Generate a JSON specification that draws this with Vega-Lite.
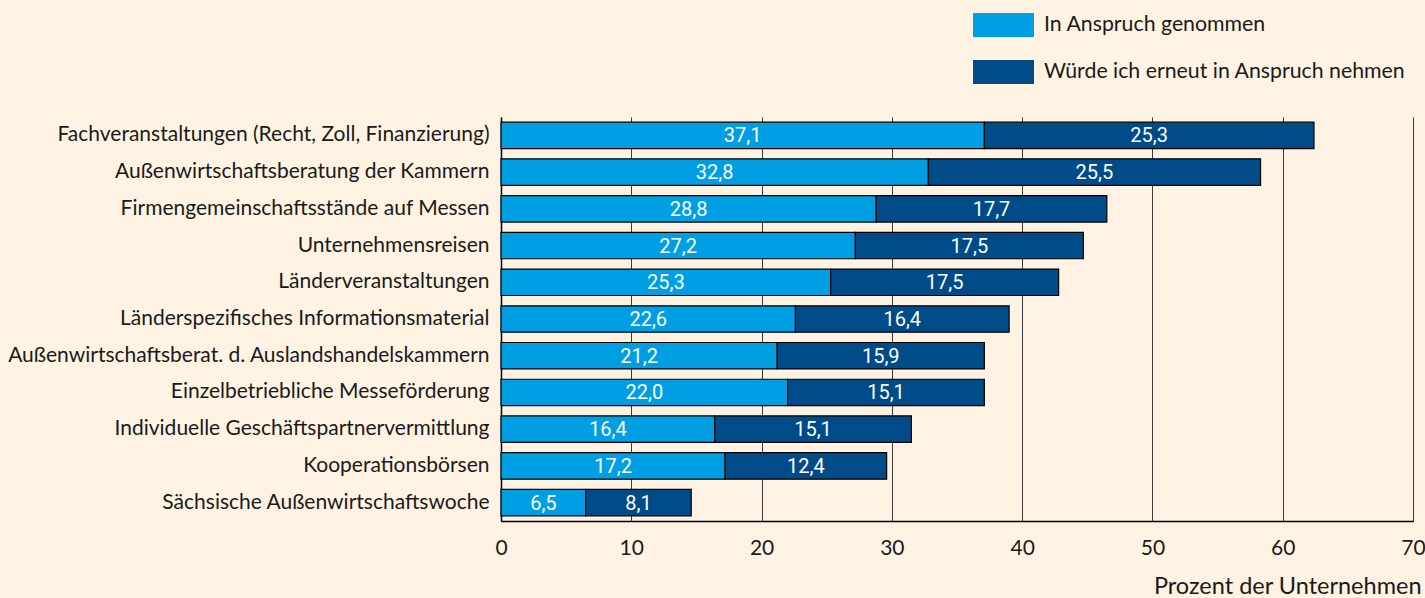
{
  "$schema": "https://vega.github.io/schema/vega-lite/v6.json",
  "width": 912,
  "height": 404,
  "autosize": {"type": "none"},
  "padding": {"left": 501, "top": 117, "right": 12, "bottom": 77},
  "background": "#FEF3E2",
  "config": {
    "view": {"stroke": null},
    "locale": {"number": {"decimal": ",", "thousands": ".", "grouping": [3], "currency": ["", " €"]}}
  },
  "datasets": {
    "werte": [
      {"Maßnahme": "Fachveranstaltungen (Recht, Zoll, Finanzierung)", "Art": "In Anspruch genommen", "Prozent": 37.1},
      {"Maßnahme": "Fachveranstaltungen (Recht, Zoll, Finanzierung)", "Art": "Würde ich erneut in Anspruch nehmen", "Prozent": 25.3},
      {"Maßnahme": "Außenwirtschaftsberatung der Kammern", "Art": "In Anspruch genommen", "Prozent": 32.8},
      {"Maßnahme": "Außenwirtschaftsberatung der Kammern", "Art": "Würde ich erneut in Anspruch nehmen", "Prozent": 25.5},
      {"Maßnahme": "Firmengemeinschaftsstände auf Messen", "Art": "In Anspruch genommen", "Prozent": 28.8},
      {"Maßnahme": "Firmengemeinschaftsstände auf Messen", "Art": "Würde ich erneut in Anspruch nehmen", "Prozent": 17.7},
      {"Maßnahme": "Unternehmensreisen", "Art": "In Anspruch genommen", "Prozent": 27.2},
      {"Maßnahme": "Unternehmensreisen", "Art": "Würde ich erneut in Anspruch nehmen", "Prozent": 17.5},
      {"Maßnahme": "Länderveranstaltungen", "Art": "In Anspruch genommen", "Prozent": 25.3},
      {"Maßnahme": "Länderveranstaltungen", "Art": "Würde ich erneut in Anspruch nehmen", "Prozent": 17.5},
      {"Maßnahme": "Länderspezifisches Informationsmaterial", "Art": "In Anspruch genommen", "Prozent": 22.6},
      {"Maßnahme": "Länderspezifisches Informationsmaterial", "Art": "Würde ich erneut in Anspruch nehmen", "Prozent": 16.4},
      {"Maßnahme": "Außenwirtschaftsberat. d. Auslandshandelskammern", "Art": "In Anspruch genommen", "Prozent": 21.2},
      {"Maßnahme": "Außenwirtschaftsberat. d. Auslandshandelskammern", "Art": "Würde ich erneut in Anspruch nehmen", "Prozent": 15.9},
      {"Maßnahme": "Einzelbetriebliche Messeförderung", "Art": "In Anspruch genommen", "Prozent": 22.0},
      {"Maßnahme": "Einzelbetriebliche Messeförderung", "Art": "Würde ich erneut in Anspruch nehmen", "Prozent": 15.1},
      {"Maßnahme": "Individuelle Geschäftspartnervermittlung", "Art": "In Anspruch genommen", "Prozent": 16.4},
      {"Maßnahme": "Individuelle Geschäftspartnervermittlung", "Art": "Würde ich erneut in Anspruch nehmen", "Prozent": 15.1},
      {"Maßnahme": "Kooperationsbörsen", "Art": "In Anspruch genommen", "Prozent": 17.2},
      {"Maßnahme": "Kooperationsbörsen", "Art": "Würde ich erneut in Anspruch nehmen", "Prozent": 12.4},
      {"Maßnahme": "Sächsische Außenwirtschaftswoche", "Art": "In Anspruch genommen", "Prozent": 6.5},
      {"Maßnahme": "Sächsische Außenwirtschaftswoche", "Art": "Würde ich erneut in Anspruch nehmen", "Prozent": 8.1}
    ]
  },
  "data": {"name": "werte"},
  "transform": [
    {"stack": "Prozent", "groupby": ["Maßnahme"], "sort": [{"field": "Art", "order": "ascending"}], "as": ["p0", "p1"]}
  ],
  "encoding": {
    "y": {
      "field": "Maßnahme",
      "type": "nominal",
      "sort": [
        "Fachveranstaltungen (Recht, Zoll, Finanzierung)",
        "Außenwirtschaftsberatung der Kammern",
        "Firmengemeinschaftsstände auf Messen",
        "Unternehmensreisen",
        "Länderveranstaltungen",
        "Länderspezifisches Informationsmaterial",
        "Außenwirtschaftsberat. d. Auslandshandelskammern",
        "Einzelbetriebliche Messeförderung",
        "Individuelle Geschäftspartnervermittlung",
        "Kooperationsbörsen",
        "Sächsische Außenwirtschaftswoche"
      ],
      "scale": {"paddingInner": 0.28, "paddingOuter": 0.14},
      "axis": {
        "title": null,
        "ticks": false,
        "domainColor": "#000000",
        "domainWidth": 1.5,
        "labelFont": "Lato",
        "labelFontSize": 21,
        "labelColor": "#1a1a1a",
        "labelPadding": 12,
        "labelLimit": 600
      }
    }
  },
  "layer": [
    {
      "mark": {"type": "bar", "stroke": "#000000", "strokeWidth": 1.2},
      "encoding": {
        "x": {
          "field": "p0",
          "type": "quantitative",
          "scale": {"domain": [0, 70], "nice": false},
          "axis": {
            "values": [0, 10, 20, 30, 40, 50, 60, 70],
            "grid": true,
            "gridColor": "#3a3a3a",
            "gridWidth": 1,
            "gridOpacity": 1,
            "ticks": false,
            "domainColor": "#000000",
            "domainWidth": 1.5,
            "labelFont": "Lato",
            "labelFontSize": 21,
            "labelColor": "#1a1a1a",
            "labelPadding": 16,
            "labelFlush": false,
            "labelOverlap": false,
            "title": "Prozent der Unternehmen",
            "titleFont": "Lato",
            "titleFontSize": 23.5,
            "titleFontWeight": "normal",
            "titleColor": "#1a1a1a",
            "titleAnchor": "end",
            "titleAlign": "right",
            "titleBaseline": "alphabetic",
            "titleX": 920,
            "titleY": 72
          }
        },
        "x2": {"field": "p1"},
        "color": {
          "field": "Art",
          "type": "nominal",
          "scale": {"domain": ["In Anspruch genommen", "Würde ich erneut in Anspruch nehmen"], "range": ["#009FE3", "#004B88"]},
          "legend": {
            "title": null,
            "orient": "none",
            "legendX": 472,
            "legendY": -104,
            "padding": 0,
            "symbolType": "M-1,-0.393H1V0.393H-1Z",
            "symbolSize": 3721,
            "symbolStrokeWidth": 0,
            "symbolOpacity": 1,
            "clipHeight": 24,
            "rowPadding": 23,
            "labelOffset": 10,
            "labelFont": "Lato",
            "labelFontSize": 21.3,
            "labelColor": "#1a1a1a",
            "labelLimit": 600
          }
        }
      }
    },
    {
      "transform": [
        {"fold": ["p0", "p1"], "as": ["Ende", "Pos"]},
        {"aggregate": [{"op": "mean", "field": "Pos", "as": "Mitte"}], "groupby": ["Maßnahme", "Art", "Prozent"]}
      ],
      "mark": {"type": "text", "color": "#ffffff", "font": "Roboto", "fontSize": 20, "align": "center", "baseline": "middle", "dy": 1},
      "encoding": {
        "x": {"field": "Mitte", "type": "quantitative"},
        "text": {"field": "Prozent", "type": "quantitative", "format": ".1f"}
      }
    }
  ]
}
